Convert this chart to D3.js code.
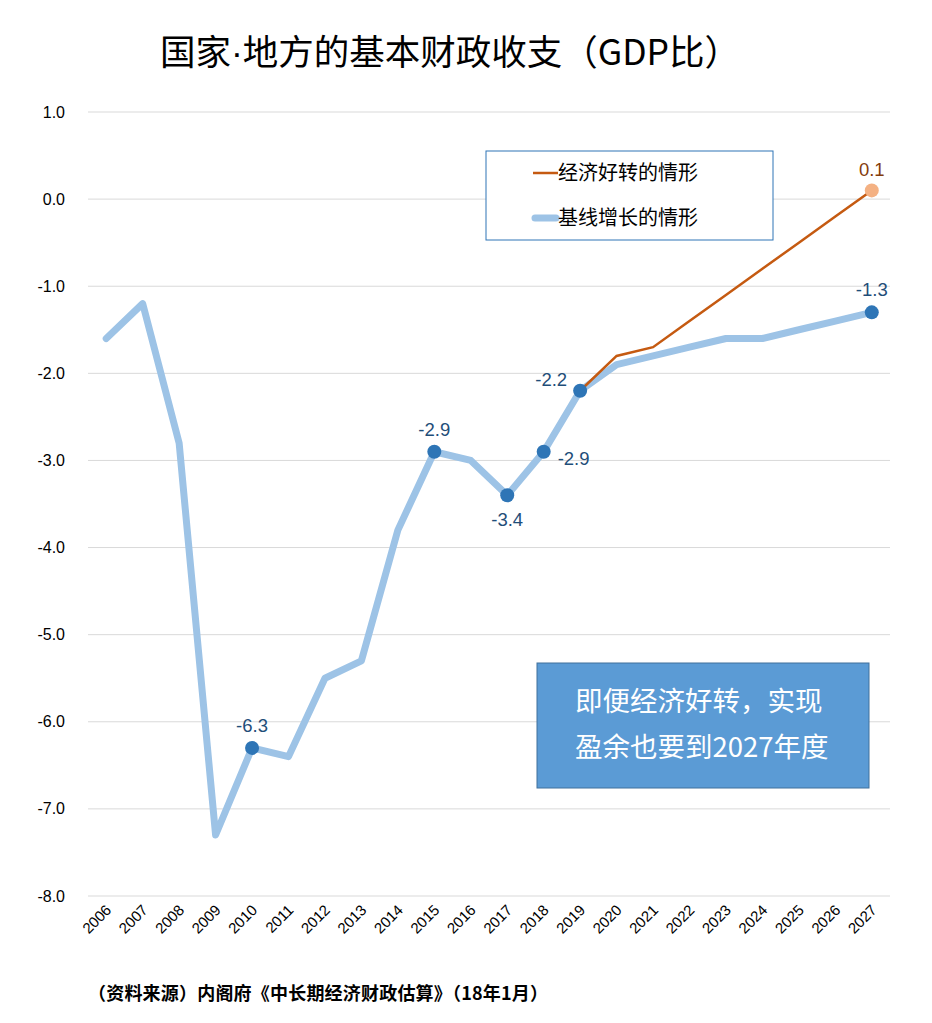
<!DOCTYPE html>
<html>
<head>
<meta charset="utf-8">
<script src="https://cdn.jsdelivr.net/npm/d3@7"></script>
<style>
  body { margin: 0; background: #fff; }
  text { font-family: "Liberation Sans", Arial, sans-serif; }
  .cjk { font-family: "Noto Sans CJK SC", "Noto Sans", sans-serif; }
</style>
</head>
<body>
<div id="chart"></div>
<script>
const years = ['2006', '2007', '2008', '2009', '2010', '2011', '2012', '2013', '2014', '2015', '2016',
  '2017', '2018', '2019', '2020', '2021', '2022', '2023', '2024', '2025', '2026', '2027'];
const baseline = [-1.6, -1.2, -2.8, -7.3, -6.3, -6.4, -5.5, -5.3, -3.8, -2.9, -3.0,
  -3.4, -2.9, -2.2, -1.9, -1.8, -1.7, -1.6, -1.6, -1.5, -1.4, -1.3];
const growthYears = ['2019', '2020', '2021', '2022', '2023', '2024', '2025', '2026', '2027'];
const growth = [-2.2, -1.8, -1.7, -1.4, -1.1, -0.8, -0.5, -0.2, 0.1];
const yTicks = [1, 0, -1, -2, -3, -4, -5, -6, -7, -8];
const seriesNames = ['经济好转的情形', '基线增长的情形'];
// labelled points on the baseline series and where the label sits
const baseLabels = [
  { year: '2010', pos: 'top' },
  { year: '2015', pos: 'top' },
  { year: '2017', pos: 'bottom' },
  { year: '2018', pos: 'right' },
  { year: '2019', pos: 'left' },
  { year: '2027', pos: 'top' }
];

const fmt = v => v.toFixed(1);

const width = 932, height = 1023;
const svg = d3.select('#chart').append('svg')
  .attr('width', width)
  .attr('height', height);

const x = d3.scalePoint().domain(years).range([88, 890]).padding(0.5);
const y = d3.scaleLinear().domain([-8, 1]).range([896, 112]);

// grid
svg.append('g').selectAll('line')
  .data(yTicks)
  .join('line')
  .attr('x1', 88).attr('x2', 890)
  .attr('y1', d => y(d)).attr('y2', d => y(d))
  .attr('stroke', '#d9d9d9')
  .attr('stroke-width', 1);

// y labels
svg.append('g').selectAll('text')
  .data(yTicks)
  .join('text')
  .attr('x', 65)
  .attr('y', d => y(d))
  .attr('dy', '0.35em')
  .attr('text-anchor', 'end')
  .attr('font-size', 16)
  .attr('fill', '#000')
  .text(fmt);

// x labels, rotated
svg.append('g').selectAll('text')
  .data(years)
  .join('text')
  .attr('transform', d => `translate(${x(d) + 6},${911}) rotate(-45)`)
  .attr('text-anchor', 'end')
  .attr('font-size', 15)
  .attr('fill', '#000')
  .text(d => d);

const line = d3.line().x(d => x(d[0])).y(d => y(d[1]));

svg.append('path')
  .attr('d', line(years.map((d, i) => [d, baseline[i]])))
  .attr('fill', 'none')
  .attr('stroke', '#9dc3e6')
  .attr('stroke-width', 7)
  .attr('stroke-linejoin', 'round')
  .attr('stroke-linecap', 'round');

svg.append('path')
  .attr('d', line(growthYears.map((d, i) => [d, growth[i]])))
  .attr('fill', 'none')
  .attr('stroke', '#c55a11')
  .attr('stroke-width', 2.5);

// baseline markers + labels
const labelled = baseLabels.map(l => ({ ...l, value: baseline[years.indexOf(l.year)] }));
svg.append('g').selectAll('circle')
  .data(labelled)
  .join('circle')
  .attr('cx', d => x(d.year))
  .attr('cy', d => y(d.value))
  .attr('r', 7)
  .attr('fill', '#2e75b6');

const off = {
  top: { dx: 0, dy: -16, anchor: 'middle' },
  bottom: { dx: 0, dy: 31, anchor: 'middle' },
  right: { dx: 14, dy: 13, anchor: 'start' },
  left: { dx: -13, dy: -5, anchor: 'end' }
};
svg.append('g').selectAll('text')
  .data(labelled)
  .join('text')
  .attr('x', d => x(d.year) + off[d.pos].dx)
  .attr('y', d => y(d.value) + off[d.pos].dy)
  .attr('text-anchor', d => off[d.pos].anchor)
  .attr('font-size', 18.5)
  .attr('fill', '#1f4e79')
  .text(d => fmt(d.value));

// growth end marker
const gLast = growth.length - 1;
svg.append('circle')
  .attr('cx', x(growthYears[gLast]))
  .attr('cy', y(growth[gLast]))
  .attr('r', 7)
  .attr('fill', '#f4b183');
svg.append('text')
  .attr('x', x(growthYears[gLast]))
  .attr('y', y(growth[gLast]) - 14)
  .attr('text-anchor', 'middle')
  .attr('font-size', 18.5)
  .attr('fill', '#843c0c')
  .text(fmt(growth[gLast]));

// legend
const legend = svg.append('g');
legend.append('rect')
  .attr('x', 486).attr('y', 151)
  .attr('width', 287).attr('height', 89)
  .attr('fill', '#fff')
  .attr('stroke', '#2e75b6')
  .attr('stroke-width', 1);
legend.append('line')
  .attr('x1', 533).attr('x2', 558)
  .attr('y1', 173).attr('y2', 173)
  .attr('stroke', '#c55a11').attr('stroke-width', 2.5);
legend.append('line')
  .attr('x1', 535).attr('x2', 556)
  .attr('y1', 218).attr('y2', 218)
  .attr('stroke', '#9dc3e6').attr('stroke-width', 7)
  .attr('stroke-linecap', 'round');
legend.selectAll('text.lg')
  .data(seriesNames)
  .join('text')
  .attr('class', 'cjk')
  .attr('x', 558)
  .attr('y', (d, i) => 173 + i * 45)
  .attr('dy', '0.35em')
  .attr('font-size', 20)
  .attr('fill', '#000')
  .text(d => d);

// annotation box
svg.append('rect')
  .attr('x', 537).attr('y', 663)
  .attr('width', 332).attr('height', 125)
  .attr('fill', '#5b9bd5')
  .attr('stroke', '#41719c')
  .attr('stroke-width', 1);
svg.append('g').selectAll('text')
  .data(['即便经济好转，实现', '盈余也要到2027年度'])
  .join('text')
  .attr('class', 'cjk')
  .attr('x', 575)
  .attr('y', (d, i) => 701 + i * 46)
  .attr('dy', '0.35em')
  .attr('font-size', 27.5)
  .attr('fill', '#fff')
  .text(d => d);

// title, with a narrow middle dot
const title = svg.append('text')
  .attr('class', 'cjk')
  .attr('x', 450)
  .attr('y', 65)
  .attr('text-anchor', 'middle')
  .attr('font-size', 35.5)
  .attr('fill', '#000');
title.append('tspan').text('国家');
title.append('tspan').style('font-family', '"Liberation Sans", Arial, sans-serif').text('·');
title.append('tspan').text('地方的基本财政收支（GDP比）');

// source
svg.append('text')
  .attr('class', 'cjk')
  .attr('x', 88)
  .attr('y', 1000)
  .attr('font-size', 18)
  .attr('letter-spacing', 0.2)
  .attr('font-weight', 'bold')
  .attr('fill', '#000')
  .text('（资料来源）内阁府《中长期经济财政估算》（18年1月）');
</script>
</body>
</html>
